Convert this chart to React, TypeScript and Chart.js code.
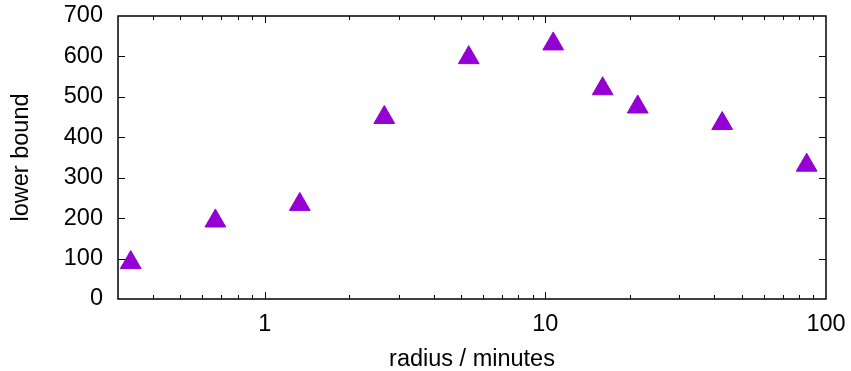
import React, { useEffect, useRef } from 'react';
import { Chart, registerables } from 'chart.js';

Chart.register(...registerables);

// data
const RADIUS_MIN = [0.333, 0.667, 1.333, 2.667, 5.333, 10.667, 16, 21.333, 42.667, 85.333];
const LOWER_BOUND = [90, 193, 234, 449, 597, 631, 520, 475, 434, 331];

const X_TICKS = [1, 10, 100];
const Y_TICKS = [0, 100, 200, 300, 400, 500, 600, 700];
const X_MIN = 0.3;
const X_MAX = 100;
const Y_MIN = 0;
const Y_MAX = 700;

const X_TITLE = 'radius / minutes';
const Y_TITLE = 'lower bound';

const FONT = '"Liberation Sans", Arial, Helvetica, sans-serif';
const POINT_COLOR = '#9400D3';

const framePlugin = {
  id: 'gnuframe',
  beforeDatasetsDraw(chart: any) {
    const { ctx, chartArea, scales } = chart;
    const { left, right, top, bottom } = chartArea;
    const x = scales.x;
    const y = scales.y;
    ctx.save();
    ctx.strokeStyle = '#000';
    ctx.lineWidth = 1;
    const MAJ = 7;
    const MIN = 4;
    ctx.beginPath();
    // x ticks (major + minor), bottom and top
    for (let d = -1; d <= 1; d++) {
      const base = Math.pow(10, d);
      for (let m = 1; m <= 9; m++) {
        const v = base * m;
        if (v <= X_MIN + 1e-9 || v >= X_MAX - 1e-9) continue;
        const px = Math.round(x.getPixelForValue(v)) + 0.5;
        const len = m === 1 ? MAJ : MIN;
        ctx.moveTo(px, bottom);
        ctx.lineTo(px, bottom - len);
        ctx.moveTo(px, top);
        ctx.lineTo(px, top + len);
      }
    }
    // y ticks, left and right
    for (const v of Y_TICKS) {
      if (v <= Y_MIN || v >= Y_MAX) continue;
      const py = Math.round(y.getPixelForValue(v)) + 0.5;
      ctx.moveTo(left, py);
      ctx.lineTo(left + MAJ, py);
      ctx.moveTo(right, py);
      ctx.lineTo(right - MAJ, py);
    }
    ctx.stroke();
    ctx.lineWidth = 1.5;
    ctx.strokeRect(left, top, right - left, bottom - top);
    ctx.restore();
  },
};

export default function App() {
  const ref = useRef<HTMLCanvasElement | null>(null);

  useEffect(() => {
    if (!ref.current) return;
    const points = RADIUS_MIN.map((r, i) => ({ x: r, y: LOWER_BOUND[i] }));
    const chart = new Chart(ref.current, {
      type: 'scatter',
      data: {
        datasets: [
          {
            data: points,
            pointStyle: 'triangle',
            pointRadius: 12,
            pointHoverRadius: 12,
            backgroundColor: POINT_COLOR,
            borderColor: POINT_COLOR,
            borderWidth: 1,
            showLine: false,
          },
        ],
      },
      options: {
        responsive: false,
        animation: false,
        events: [],
        layout: { padding: { top: 16, right: 25, left: 0, bottom: 0 } },
        plugins: {
          legend: { display: false },
          tooltip: { enabled: false },
        },
        scales: {
          x: {
            type: 'logarithmic',
            min: X_MIN,
            max: X_MAX,
            border: { display: false },
            grid: { display: false, drawTicks: false },
            afterBuildTicks: (scale: any) => {
              scale.ticks = X_TICKS.map((v) => ({ value: v }));
            },
            afterFit: (scale: any) => {
              scale.height = 72;
              scale.paddingLeft = 0;
              scale.paddingRight = 0;
            },
            ticks: {
              color: '#000',
              padding: 11,
              maxRotation: 0,
              autoSkip: false,
              font: { family: FONT, size: 23.5 },
              callback: (v: any) => String(v),
            },
            title: {
              display: true,
              text: X_TITLE,
              color: '#000',
              font: { family: FONT, size: 23.5, lineHeight: 1 },
              padding: { top: 0, bottom: 0 },
            },
          },
          y: {
            type: 'linear',
            min: Y_MIN,
            max: Y_MAX,
            border: { display: false },
            grid: { display: false, drawTicks: false },
            afterBuildTicks: (scale: any) => {
              scale.ticks = Y_TICKS.map((v) => ({ value: v }));
            },
            afterFit: (scale: any) => {
              scale.width = 118;
              scale.paddingTop = 0;
              scale.paddingBottom = 0;
            },
            ticks: {
              color: '#000',
              padding: 15,
              font: { family: FONT, size: 23.5 },
              callback: (v: any) => String(v),
            },
            title: {
              display: true,
              text: Y_TITLE,
              color: '#000',
              font: { family: FONT, size: 23.5, lineHeight: 1 },
              padding: { top: 10, bottom: 0 },
            },
          },
        },
      },
      plugins: [framePlugin],
    });
    return () => chart.destroy();
  }, []);

  return (
    <div style={{ position: 'absolute', left: 0, top: 0, width: 851, height: 371, background: '#fff' }}>
      <canvas ref={ref} width={851} height={371} style={{ display: 'block' }} />
    </div>
  );
}
